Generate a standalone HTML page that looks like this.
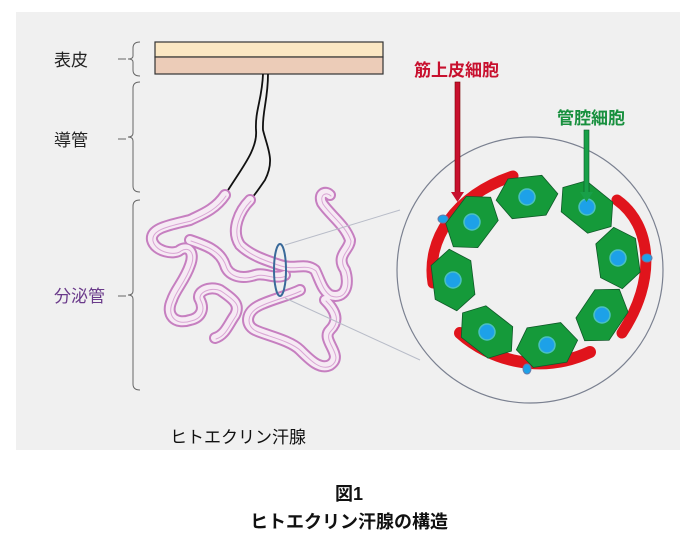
<!DOCTYPE html>
<html><head><meta charset="utf-8"><style>
body{margin:0;width:698px;height:550px;background:#fff;overflow:hidden;font-family:"Liberation Sans","Noto Sans CJK JP",sans-serif}
</style></head><body>
<svg width="698" height="550" viewBox="0 0 698 550" xmlns="http://www.w3.org/2000/svg" style="position:absolute;left:0;top:0">
<defs>
<g id="coil">
<path d="M225 195 C215 210 200 215 190 220 C170 225 150 228 152 240 C155 252 175 255 180 250 C188 245 195 252 190 265 C185 280 175 290 172 300 C165 315 175 325 190 320 C200 318 205 310 200 300 C195 292 210 285 220 290 C235 300 240 305 235 315 C228 325 225 335 215 338"/>
<path d="M250 200 C240 210 230 230 240 245 C250 255 265 260 280 265 C295 270 305 262 315 270 C320 280 322 290 330 295 C345 300 350 285 345 270 C335 255 350 250 350 240 C345 225 330 215 322 203 C318 194 325 190 330 195"/>
<path d="M300 290 C290 295 270 300 260 305 C245 312 245 325 255 330 C265 335 290 340 300 350 C310 360 320 370 330 365 C345 355 320 340 330 330 C340 320 335 310 325 300"/>
<path d="M190 240 C205 245 220 250 225 265 C228 275 240 280 255 275 C265 272 275 280 285 275"/>
</g>
<polygon id="hex" points="-31,0 -17,-20 17,-20 31,0 17,20 -17,20"/>
</defs>
<rect x="16" y="12" width="664" height="438" fill="#f0f0f0"/>
<rect x="155" y="42" width="228" height="15" fill="#fbe7c3" stroke="#333" stroke-width="1.2"/>
<rect x="155" y="57" width="228" height="17" fill="#ecccb8" stroke="#333" stroke-width="1.2"/>
<g fill="none" stroke="#666" stroke-width="1">
<path d="M140 42 q-7 0 -7 6 v8 q0 3 -5 3 q5 0 5 3 v8 q0 6 7 6"/>
<path d="M140 82 q-7 0 -7 6 v45 q0 4 -5 4 q5 0 5 4 v45 q0 6 7 6"/>
<path d="M140 200 q-7 0 -7 6 v85 q0 4 -5 4 q5 0 5 4 v85 q0 6 7 6"/>
<line x1="118" y1="59" x2="126" y2="59"/><line x1="118" y1="139" x2="126" y2="139"/><line x1="118" y1="296" x2="126" y2="296"/>
</g>
<text x="54" y="66" font-size="17" fill="#222">表皮</text>
<text x="54" y="146" font-size="17" fill="#222">導管</text>
<text x="54" y="302" font-size="17" fill="#6a3a8a">分泌管</text>
<g fill="none" stroke="#111" stroke-width="1.8">
<path d="M263 74 C262 100 255 110 256 130 C258 150 240 170 225 195"/>
<path d="M268 74 C268 100 262 112 263 130 C268 150 275 160 265 180 C258 190 255 195 250 200"/>
</g>
<g fill="none" stroke-linecap="round" stroke-linejoin="round">
<use href="#coil" stroke="#c67fc0" stroke-width="12"/>
<use href="#coil" stroke="#f6eaf4" stroke-width="8"/>
<use href="#coil" stroke="#d9a6d4" stroke-width="1" transform="translate(1,1)"/>
</g>
<line x1="285" y1="245" x2="400" y2="210" stroke="#b8bcc8" stroke-width="1"/>
<line x1="285" y1="298" x2="420" y2="360" stroke="#b8bcc8" stroke-width="1"/>
<ellipse cx="280" cy="270" rx="6" ry="26" fill="none" stroke="#3a6a9a" stroke-width="2"/>
<circle cx="530" cy="270" r="133" fill="#f0f0f0" stroke="#7a8090" stroke-width="1.2"/>
<g fill="none" stroke="#e0141c" stroke-linecap="round">
<path d="M433 283 C426 240 455 195 513 176" stroke-width="11"/>
<path d="M617 200 C652 225 657 280 622 333" stroke-width="11"/>
<path d="M460 333 C490 360 540 375 590 352" stroke-width="12"/>
</g>
<g fill="#1da1e8" stroke="#6a7aa8" stroke-width="1">
<ellipse cx="443" cy="219" rx="5" ry="4"/>
<ellipse cx="647" cy="258" rx="5" ry="4"/>
<ellipse cx="527" cy="369" rx="4" ry="5"/>
</g>
<g fill="#159a3a" stroke="#0f5a28" stroke-width="0.8">
<use href="#hex" transform="translate(527,197) rotate(-6)"/>
<use href="#hex" transform="translate(587,207) rotate(39)"/>
<use href="#hex" transform="translate(618,258) rotate(82)"/>
<use href="#hex" transform="translate(602,315) rotate(124)"/>
<use href="#hex" transform="translate(547,345) rotate(171)"/>
<use href="#hex" transform="translate(487,332) rotate(218)"/>
<use href="#hex" transform="translate(453,280) rotate(263)"/>
<use href="#hex" transform="translate(472,222) rotate(307)"/>
</g>
<g fill="#1da1e8" stroke="#4bc0c0" stroke-width="1.5">
<circle cx="527" cy="197" r="8"/><circle cx="587" cy="207" r="8"/><circle cx="618" cy="258" r="8"/><circle cx="602" cy="315" r="8"/>
<circle cx="547" cy="345" r="8"/><circle cx="487" cy="332" r="8"/><circle cx="453" cy="280" r="8"/><circle cx="472" cy="222" r="8"/>
</g>
<rect x="455" y="82" width="5" height="112" fill="#c8102e" stroke="#700" stroke-width="0.6"/>
<polygon points="451,192 464,192 457.5,202" fill="#c8102e"/>
<rect x="584" y="130" width="5" height="64" fill="#18a048" stroke="#0a5a28" stroke-width="0.6"/>
<polygon points="580,192 593,192 586.5,202" fill="#18a048"/>
<text x="414" y="76" font-size="17" font-weight="bold" fill="#c8102e">筋上皮細胞</text>
<text x="557" y="124" font-size="17" font-weight="bold" fill="#18903e">管腔細胞</text>
<text x="170" y="443" font-size="17" fill="#111">ヒトエクリン汗腺</text>
<text x="349" y="500" font-size="18" font-weight="bold" fill="#111" text-anchor="middle">図1</text>
<text x="349" y="528" font-size="18" font-weight="bold" fill="#111" text-anchor="middle">ヒトエクリン汗腺の構造</text>
</svg>
</body></html>
